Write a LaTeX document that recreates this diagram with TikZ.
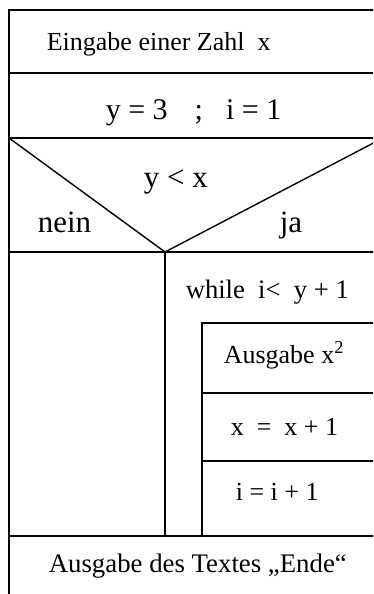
\documentclass[tikz,border=0pt]{standalone}
\usepackage{fontspec}
\setmainfont{Liberation Serif}
\begin{document}
\begin{tikzpicture}[x=1pt,y=-1pt, line width=1.6pt,
  txt/.style={anchor=base west, inner sep=0pt, font=\fontsize{26}{30}\selectfont},
  big/.style={anchor=base west, inner sep=0pt, font=\fontsize{31}{36}\selectfont}]
\useasboundingbox (0,0) rectangle (373,594);
\begin{scope}
\clip (0,0) rectangle (373,594);
\draw (380,10) -- (9,10) -- (9,600);
\draw (9,73) -- (380,73);
\draw (9,138) -- (380,138);
\draw[line width=1.4pt] (9,138) -- (165,252) -- (383,138);
\draw (9,252) -- (380,252);
\draw (165,252) -- (165,536);
\draw (202,536) -- (202,323) -- (380,323);
\draw (202,393) -- (380,393);
\draw (202,461) -- (380,461);
\draw (9,536) -- (380,536);
\end{scope}
\node[txt] (inp) at (46,51) {Eingabe einer Zahl\ \ x};
\node[txt, font=\fontsize{30}{34}\selectfont] (init) at (105,119) {y = 3\hspace{27pt};\hspace{23pt}i = 1};
\node[big] (cond) at (143,187) {y < x};
\node[big] (nein) at (37,232) {nein};
\node[big] (ja) at (279,232) {ja};
\node[txt, font=\fontsize{26.6}{30}\selectfont] (while) at (185,298) {while\ \ i<\ \ y + 1};
\node[txt] (out) at (223,363) {Ausgabe x\textsuperscript{2}};
\node[txt] (incx) at (230,435) {x\ \ =\ \ x + 1};
\node[txt] (inci) at (235,500) {i = i + 1};
\node[txt, font=\fontsize{26.8}{30}\selectfont] (end) at (48,572) {Ausgabe des Textes „Ende“};
\end{tikzpicture}
\end{document}
